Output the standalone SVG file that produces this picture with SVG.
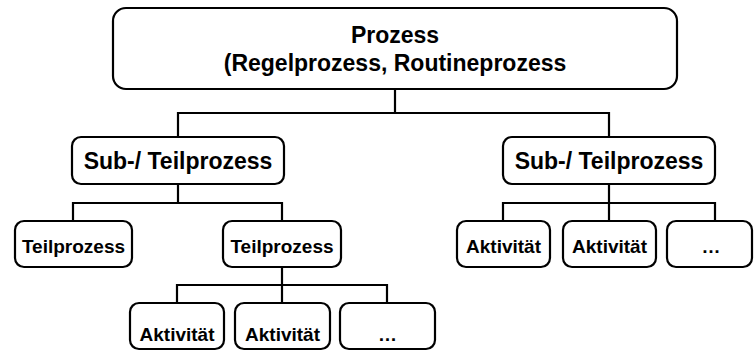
<svg xmlns="http://www.w3.org/2000/svg" width="754" height="351" viewBox="0 0 754 351">
  <style>
    .box { fill: #ffffff; stroke: #000000; stroke-width: 2.2; }
    .wire { fill: none; stroke: #000000; stroke-width: 2.2; stroke-linecap: square; }
    text { font-family: "Liberation Sans", Arial, sans-serif; font-weight: bold; fill: #000000; text-anchor: middle; }
    .t1 { font-size: 23px; }
    .t2 { font-size: 19px; }
  </style>
  <rect width="754" height="351" fill="#ffffff"/>

  <!-- connectors -->
  <g id="connectors" class="wire">
    <path d="M395 89 V113 M178 113 H609 M178 113 V137 M609 113 V137"/>
    <path d="M178 184 V203 M73 203 H282 M73 203 V221 M282 203 V221"/>
    <path d="M282 267 V285 M177 285 H387 M177 285 V303 M282 285 V303 M387 285 V303"/>
    <path d="M609 184 V203 M503 203 H715 M503 203 V221 M609 203 V221 M715 203 V221"/>
  </g>

  <!-- top level -->
  <g id="prozess">
    <rect class="box" x="113" y="8" width="564" height="81" rx="13"/>
    <text class="t1" x="395" y="43">Prozess</text>
    <text class="t1" x="395" y="71">(Regelprozess, Routineprozess</text>
  </g>

  <!-- second level -->
  <g id="sub-left">
    <rect class="box" x="72" y="137" width="212" height="47" rx="9"/>
    <text class="t1" x="178" y="169">Sub-/ Teilprozess</text>
  </g>
  <g id="sub-right">
    <rect class="box" x="503" y="137" width="212" height="47" rx="9"/>
    <text class="t1" x="609" y="169">Sub-/ Teilprozess</text>
  </g>

  <!-- third level, left branch -->
  <g id="teil-1">
    <rect class="box" x="15" y="221" width="117" height="46" rx="9"/>
    <text class="t2" x="73.5" y="253">Teilprozess</text>
  </g>
  <g id="teil-2">
    <rect class="box" x="223" y="221" width="118" height="46" rx="9"/>
    <text class="t2" x="282" y="253">Teilprozess</text>
  </g>

  <!-- third level, right branch -->
  <g id="akt-r1">
    <rect class="box" x="457" y="221" width="93" height="46" rx="9"/>
    <text class="t2" x="503.5" y="253">Aktivität</text>
  </g>
  <g id="akt-r2">
    <rect class="box" x="563" y="221" width="93" height="46" rx="9"/>
    <text class="t2" x="609.5" y="253">Aktivität</text>
  </g>
  <g id="more-r">
    <rect class="box" x="667" y="221" width="85" height="46" rx="9"/>
    <text class="t2" x="711" y="253">…</text>
  </g>

  <!-- fourth level -->
  <g id="akt-l1">
    <rect class="box" x="130" y="303" width="94" height="46" rx="9"/>
    <text class="t2" x="177" y="341">Aktivität</text>
  </g>
  <g id="akt-l2">
    <rect class="box" x="235" y="303" width="95" height="46" rx="9"/>
    <text class="t2" x="282.5" y="341">Aktivität</text>
  </g>
  <g id="more-l">
    <rect class="box" x="340" y="303" width="95" height="46" rx="9"/>
    <text class="t2" x="387.5" y="341">…</text>
  </g>
</svg>
